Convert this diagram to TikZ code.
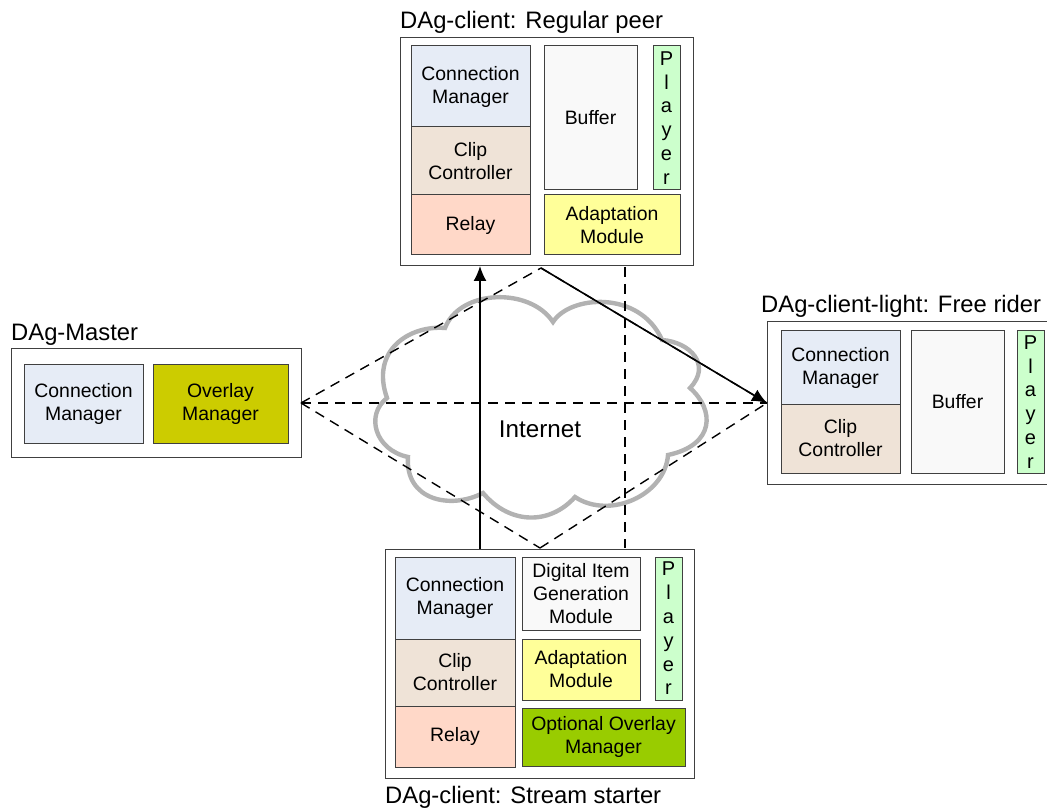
\documentclass[tikz,border=0pt]{standalone}
\usepackage{fontspec}
\setmainfont{Liberation Sans}
\usetikzlibrary{arrows.meta}
\definecolor{cmc}{HTML}{E6ECF6}
\definecolor{clipc}{HTML}{EFE3D7}
\definecolor{relayc}{HTML}{FFD8C8}
\definecolor{bufc}{HTML}{F9F9F9}
\definecolor{playc}{HTML}{CCFFCC}
\definecolor{adaptc}{HTML}{FFFF99}
\definecolor{ovc}{HTML}{CCCC00}
\definecolor{optc}{HTML}{99CC00}
\definecolor{edgec}{HTML}{404040}
\definecolor{cloudc}{HTML}{B2B2B2}
\newcommand{\blk}[7]{\node[#6, minimum width={(#4-#2)*1pt}, minimum height={(#5-#3)*1pt}] (#1) at ({(#2+#4)/2},{(#3+#5)/2}) {#7};}
\tikzset{
 x=1pt, y=-1pt,
 baseb/.style={draw=edgec, line width=1pt, inner sep=0pt, outer sep=0pt, align=center, font=\fontsize{19.4}{23}\selectfont},
 outerbox/.style={baseb, fill=white},
 cmb/.style={baseb, fill=cmc},
 clipb/.style={baseb, fill=clipc},
 relayb/.style={baseb, fill=relayc},
 bufb/.style={baseb, fill=bufc},
 playb/.style={baseb, fill=playc, font=\fontsize{20}{23.8}\selectfont},
 adaptb/.style={baseb, fill=adaptc},
 ovb/.style={baseb, fill=ovc},
 optb/.style={baseb, fill=optc},
 titlet/.style={anchor=base west, inner sep=0pt, font=\fontsize{23.8}{26}\selectfont},
 dashl/.style={dash pattern=on 10pt off 7pt, line width=1.4pt},
 arrowl/.style={line width=1.6pt, -{Latex[length=15pt,width=13pt]}},
}
\begin{document}
\begin{tikzpicture}
\useasboundingbox (0,0) rectangle (1047,810);
% cloud
\draw[cloudc, line width=4.4pt, line join=miter]
 (445,328) .. controls (460,289) and (530,287) .. (553,322)
 .. controls (570,295) and (640,290) .. (662,340)
 .. controls (690,342) and (712,365) .. (690,388)
 .. controls (715,410) and (715,445) .. (668,455)
 .. controls (665,495) and (610,520) .. (575,497)
 .. controls (550,525) and (510,525) .. (483,493)
 .. controls (450,510) and (405,500) .. (408,457)
 .. controls (375,450) and (365,415) .. (387,398)
 .. controls (370,350) and (410,325) .. (445,328) -- cycle;
\node[font=\fontsize{24.2}{26}\selectfont, inner sep=0pt] (inet) at (540,429) {Internet};
% outer boxes
\blk{tbox}{400}{38}{693}{266}{outerbox}{}
\blk{lbox}{11}{349}{301}{457}{outerbox}{}
\blk{rbox}{767}{322}{1049}{484}{outerbox}{}
\blk{bbox}{385}{549}{694}{778}{outerbox}{}
% top
\blk{tcm}{411}{46}{530}{127}{cmb}{Connection\\Manager}
\blk{tclip}{411}{127}{530}{195}{clipb}{Clip\\Controller}
\blk{trelay}{411}{195}{530}{255}{relayb}{Relay}
\blk{tbuf}{544}{46}{637}{190}{bufb}{Buffer}
\blk{tplay}{653}{46}{680}{190}{playb}{P\\l\\a\\y\\e\\r}
\blk{tad}{544}{195}{680}{255}{adaptb}{Adaptation\\Module}
% left
\blk{lcm}{24}{364}{143}{443}{cmb}{Connection\\Manager}
\blk{lov}{153}{364}{288}{443}{ovb}{Overlay\\Manager}
% right
\blk{rcm}{781}{331}{900}{404}{cmb}{Connection\\Manager}
\blk{rclip}{781}{404}{900}{473}{clipb}{Clip\\Controller}
\blk{rbuf}{911}{331}{1004}{473}{bufb}{Buffer}
\blk{rplay}{1017}{331}{1044}{473}{playb}{P\\l\\a\\y\\e\\r}
% bottom
\blk{bcm}{395}{557}{515}{639}{cmb}{Connection\\Manager}
\blk{bclip}{395}{639}{515}{706}{clipb}{Clip\\Controller}
\blk{brelay}{395}{706}{515}{767}{relayb}{Relay}
\blk{bdig}{522}{557}{640}{630}{bufb}{Digital Item\\Generation\\Module}
\blk{bad}{522}{639}{640}{700}{adaptb}{Adaptation\\Module}
\blk{bplay}{655}{557}{682}{700}{playb}{P\\l\\a\\y\\e\\r}
\blk{bopt}{522}{708}{685}{766}{optb}{Optional Overlay\\Manager}
% titles
\node[titlet] (t1) at (400,29) {DAg-client: Regular peer};
\node[titlet] (t2) at (11,341) {DAg-Master};
\node[titlet] (t3) at (761,313) {DAg-client-light: Free rider};
\node[titlet] (t4) at (385,803) {DAg-client: Stream starter};
% hubs
\coordinate (hl) at (lbox.east);
\coordinate (hr) at (rbox.west);
\coordinate (ht) at (541,268);
\coordinate (hb) at (540,548);
\coordinate (vt) at (625,267);
\coordinate (vb) at (625,548);
\coordinate (arrt) at (480,266);
\coordinate (arrb) at (480,549);
\draw[dashl] (hl) -- (ht);
\draw[dashl] (ht) -- (hr);
\draw[dashl] (hl) -- (hr);
\draw[dashl] (hl) -- (hb);
\draw[dashl] (hb) -- (hr);
\draw[dashl] (vt) -- (vb);
\draw[arrowl] (arrb) -- (arrt);
\draw[arrowl] (ht) -- (hr);
\end{tikzpicture}
\end{document}
